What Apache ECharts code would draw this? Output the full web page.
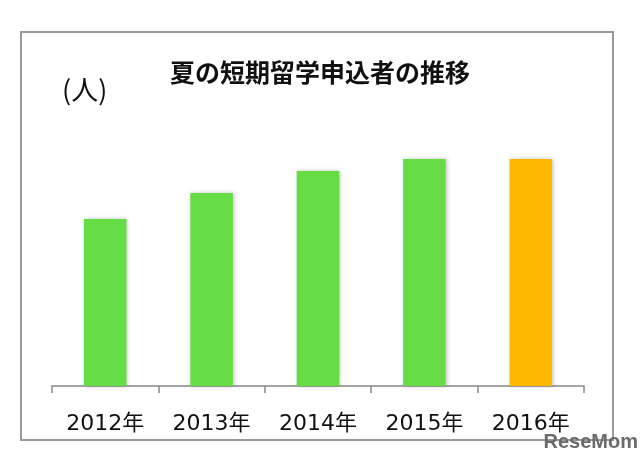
<!DOCTYPE html>
<html><head><meta charset="utf-8">
<script src="https://cdn.jsdelivr.net/npm/echarts@6/dist/echarts.min.js"></script>
<style>html,body{margin:0;padding:0;background:#fff}#c{width:640px;height:467px}</style>
</head><body><div id="c"></div>
<script>
const categories = ['2012年','2013年','2014年','2015年','2016年'];
const values = [167, 193, 215, 227, 227];
const barColors = ['#66dd44','#66dd44','#66dd44','#66dd44','#ffb800'];
const titleText = '夏の短期留学申込者の推移';
const unitText = '(人)';

const chart = echarts.init(document.getElementById('c'));
chart.setOption({
  animation: false,
  backgroundColor: '#fff',
  title: {
    text: titleText, left: 'center', top: 55,
    textStyle: {fontFamily: 'Noto Sans CJK JP', fontSize: 25, fontWeight: 'bold', color: '#111'}
  },
  graphic: [
    {type: 'rect', shape: {x: 21, y: 32, width: 592, height: 408},
     style: {fill: 'none', stroke: '#999', lineWidth: 2}},
    {type: 'text', left: 62, top: 76,
     style: {text: unitText, font: '27px "Noto Sans CJK JP"', fill: '#111'}},
    {type: 'text', right: 2, top: 432,
     style: {text: 'ReseMom', font: 'bold 20px "Liberation Sans"', fill: '#6a6a6a'}}
  ],
  grid: {left: 52, right: 56, top: 86, bottom: 81},
  xAxis: {
    type: 'category', data: categories,
    axisLine: {lineStyle: {color: '#888', width: 1.5}},
    axisTick: {show: true, length: 7, lineStyle: {color: '#888', width: 1.5}},
    axisLabel: {fontFamily: '"DejaVu Sans", "Noto Sans CJK JP"', fontSize: 22, color: '#111', margin: 27}
  },
  yAxis: {type: 'value', min: 0, max: 300, show: false, splitLine: {show: false}},
  series: [{
    type: 'bar', barWidth: '40%',
    data: values.map((v, i) => ({value: v, itemStyle: {color: barColors[i]}})),
    itemStyle: {shadowColor: 'rgba(0,0,0,0.25)', shadowBlur: 4, shadowOffsetX: 1}
  }]
});
</script></body></html>
